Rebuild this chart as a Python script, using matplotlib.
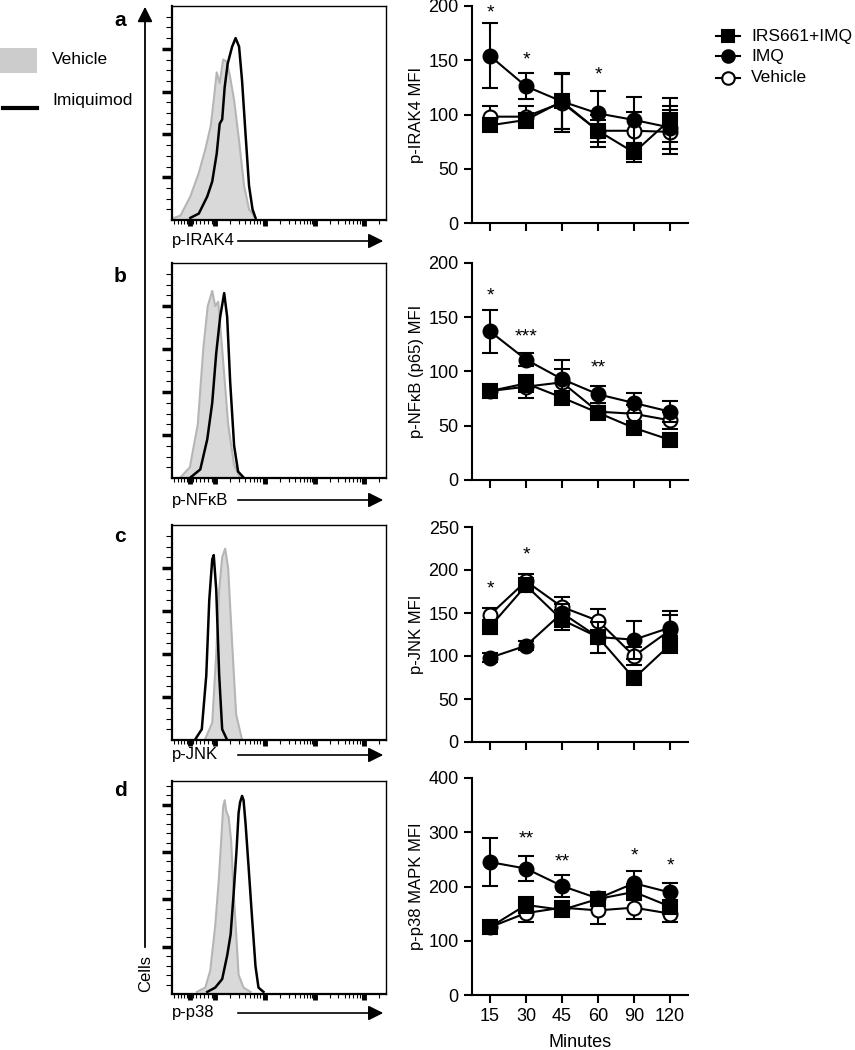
import matplotlib
matplotlib.use("Agg")
import matplotlib.pyplot as plt
from matplotlib.lines import Line2D
from matplotlib.patches import Rectangle, FancyArrowPatch
import numpy as np

plt.rcParams['font.family'] = ['Liberation Sans', 'DejaVu Sans']

W, H = 855, 1050

# ---------------- line-chart data ----------------
minutes = ["15", "30", "45", "60", "90", "120"]

irak4_irs = [90, 95, 112, 85, 65, 95]
irak4_irs_err = [5, 5, 25, 15, 9, 20]
irak4_imq = [154, 126, 112, 101, 95, 88]
irak4_imq_err = [30, 12, 25, 21, 21, 20]
irak4_veh = [98, 98, 111, 85, 85, 84]
irak4_veh_err = [10, 10, 27, 10, 17, 20]
irak4_stars = ["*", "*", "", "*", "", ""]
irak4_star_y = [194, 150, 0, 136, 0, 0]

nfkb_irs = [82, 89, 76, 62, 48, 37]
nfkb_irs_err = [4, 8, 5, 5, 4, 4]
nfkb_imq = [137, 111, 93, 79, 71, 63]
nfkb_imq_err = [20, 6, 18, 8, 9, 10]
nfkb_veh = [82, 86, 90, 63, 61, 55]
nfkb_veh_err = [3, 10, 12, 5, 8, 8]
nfkb_stars = ["*", "***", "", "**", "", ""]
nfkb_star_y = [170, 132, 0, 103, 0, 0]

jnk_irs = [134, 182, 142, 122, 74, 113]
jnk_irs_err = [8, 8, 12, 5, 5, 10]
jnk_imq = [98, 112, 150, 122, 119, 133]
jnk_imq_err = [5, 5, 10, 18, 22, 15]
jnk_veh = [148, 187, 157, 141, 100, 130]
jnk_veh_err = [8, 8, 12, 14, 10, 22]
jnk_stars = ["*", "*", "", "", "", ""]
jnk_star_y = [178, 217, 0, 0, 0, 0]

p38_irs = [125, 166, 157, 177, 190, 163]
p38_irs_err = [8, 15, 12, 10, 15, 10]
p38_imq = [245, 233, 201, 178, 206, 189]
p38_imq_err = [44, 23, 21, 10, 22, 18]
p38_veh = [125, 151, 161, 156, 161, 150]
p38_veh_err = [5, 17, 12, 25, 20, 15]
p38_stars = ["", "**", "**", "", "*", "*"]
p38_star_y = [0, 288, 245, 0, 256, 237]

# ---------------- histogram data (x: log10 fluorescence, y: % of max scale) ----------------
h_irak4_veh_x = [1.17, 1.30, 1.50, 1.67, 1.80, 1.91, 1.97, 2.03, 2.09, 2.16, 2.23, 2.29, 2.38, 2.48, 2.58, 2.68, 2.81]
h_irak4_veh_y = [1, 2, 11, 22, 33, 44, 56, 69, 64, 75, 74, 68, 56, 37, 16, 5, 1]
h_irak4_imq_x = [1.50, 1.67, 1.84, 1.94, 2.03, 2.09, 2.14, 2.19, 2.25, 2.34, 2.41, 2.48, 2.54, 2.61, 2.68, 2.75, 2.81]
h_irak4_imq_y = [1, 3, 11, 18, 31, 45, 47, 62, 73, 81, 85, 81, 65, 40, 16, 5, 1]

h_nfkb_veh_x = [1.29, 1.49, 1.65, 1.76, 1.85, 1.94, 2.00, 2.06, 2.14, 2.26, 2.38, 2.50]
h_nfkb_veh_y = [0, 5, 25, 60, 80, 87, 80, 82, 60, 25, 6, 0]
h_nfkb_imq_x = [1.49, 1.70, 1.84, 1.94, 2.02, 2.10, 2.18, 2.24, 2.30, 2.38, 2.46, 2.58]
h_nfkb_imq_y = [0, 4, 18, 35, 58, 75, 86, 75, 45, 15, 3, 0]

h_jnk_veh_x = [1.79, 1.94, 2.02, 2.08, 2.14, 2.20, 2.26, 2.34, 2.42, 2.54]
h_jnk_veh_y = [0, 8, 40, 70, 85, 89, 80, 45, 12, 0]
h_jnk_imq_x = [1.59, 1.73, 1.82, 1.88, 1.94, 1.97, 2.02, 2.08, 2.14, 2.24]
h_jnk_imq_y = [0, 5, 30, 65, 84, 86, 70, 30, 5, 0]

h_p38_veh_x = [1.63, 1.80, 1.90, 2.00, 2.07, 2.12, 2.16, 2.19, 2.22, 2.27, 2.32, 2.37, 2.43, 2.47, 2.57, 2.71]
h_p38_veh_y = [1, 3, 11, 32, 53, 72, 88, 91, 86, 83, 72, 48, 25, 9, 3, 1]
h_p38_imq_x = [1.84, 2.00, 2.14, 2.24, 2.31, 2.37, 2.43, 2.47, 2.50, 2.54, 2.57, 2.61, 2.67, 2.74, 2.81, 2.87, 2.97]
h_p38_imq_y = [1, 3, 7, 18, 28, 47, 68, 85, 90, 93, 91, 80, 60, 36, 13, 3, 1]

hist_labels = ["p-IRAK4", "p-NF\u03baB", "p-JNK", "p-p38"]
line_ylabels = ["p-IRAK4 MFI", "p-NF\u03baB (p65) MFI", "p-JNK MFI", "p-p38 MAPK MFI"]
line_ymax = [200, 200, 250, 400]
line_ystep = [50, 50, 50, 100]
panel_letters = ["a", "b", "c", "d"]

# ---------------- layout ----------------
def rect(x0, y0, x1, y1):
    return [x0 / W, 1 - y1 / H, (x1 - x0) / W, (y1 - y0) / H]

def fx(x):
    return x / W

def fy(y):
    return 1 - y / H

line_boxes = [(472, 6, 688, 223), (472, 263, 688, 480), (472, 527, 688, 742), (472, 778, 688, 995)]
hist_boxes = [(172, 6, 386, 220), (172, 263, 386, 478), (172, 525, 386, 740), (172, 781, 386, 994)]
hist_ymajor = [20, 20, 20, 22.22]
hist_yminor = [5, 5, 5, 4.444]
letter_y = [20, 276, 537, 790]
hist_label_y = [241, 500, 755, 1013]

fig = plt.figure(figsize=(W / 100, H / 100), dpi=100)

line_data = [
    (irak4_irs, irak4_irs_err, irak4_imq, irak4_imq_err, irak4_veh, irak4_veh_err, irak4_stars, irak4_star_y),
    (nfkb_irs, nfkb_irs_err, nfkb_imq, nfkb_imq_err, nfkb_veh, nfkb_veh_err, nfkb_stars, nfkb_star_y),
    (jnk_irs, jnk_irs_err, jnk_imq, jnk_imq_err, jnk_veh, jnk_veh_err, jnk_stars, jnk_star_y),
    (p38_irs, p38_irs_err, p38_imq, p38_imq_err, p38_veh, p38_veh_err, p38_stars, p38_star_y),
]
hist_data = [
    (h_irak4_veh_x, h_irak4_veh_y, h_irak4_imq_x, h_irak4_imq_y),
    (h_nfkb_veh_x, h_nfkb_veh_y, h_nfkb_imq_x, h_nfkb_imq_y),
    (h_jnk_veh_x, h_jnk_veh_y, h_jnk_imq_x, h_jnk_imq_y),
    (h_p38_veh_x, h_p38_veh_y, h_p38_imq_x, h_p38_imq_y),
]

xpos = np.arange(len(minutes))
tick_fs = 13

for i in range(4):
    irs, irs_e, imq, imq_e, veh, veh_e, stars, star_y = line_data[i]
    ax = fig.add_axes(rect(*line_boxes[i]))
    common = dict(color='k', lw=1.5, capsize=5.5, capthick=1.5, elinewidth=1.5, mec='k', ms=10, mew=1.5)
    ax.errorbar(xpos, veh, yerr=veh_e, marker='o', mfc='white', zorder=3, **common)
    ax.errorbar(xpos, irs, yerr=irs_e, marker='s', mfc='k', zorder=4, **common)
    ax.errorbar(xpos, imq, yerr=imq_e, marker='o', mfc='k', zorder=5, **common)
    for j, (s, sy) in enumerate(zip(stars, star_y)):
        if s:
            ax.text(xpos[j], sy, s, ha='center', va='center', fontsize=14)
    ax.set_xlim(-0.5, 5.5)
    ax.set_ylim(0, line_ymax[i])
    ax.set_yticks(np.arange(0, line_ymax[i] + 1, line_ystep[i]))
    ax.set_xticks(xpos)
    for s in ['top', 'right']:
        ax.spines[s].set_visible(False)
    for s in ['left', 'bottom']:
        ax.spines[s].set_linewidth(1.5)
    ax.tick_params(direction='out', length=6, width=1.5, labelsize=tick_fs)
    ax.set_ylabel(line_ylabels[i], fontsize=12, labelpad=3)
    if i == 3:
        ax.set_xticklabels(minutes)
        ax.set_xlabel("Minutes", fontsize=13, labelpad=6)
    else:
        ax.set_xticklabels([])

    # histogram
    vx, vy, mx, my = hist_data[i]
    hx = fig.add_axes(rect(*hist_boxes[i]))
    hx.fill_between(vx, vy, 0, color='#d9d9d9', lw=0, zorder=1)
    hx.plot(vx, vy, color='#b5b5b5', lw=1.5, zorder=2)
    hx.plot(mx, my, color='k', lw=1.8, zorder=3)
    hx.set_xlim(1.131, 5.434)
    hx.set_ylim(0, 100)
    xmaj = [1.5, 2, 3, 4, 5]
    xmin = [1.18, 1.25, 1.32, 1.38, 1.44, 1.56, 1.62, 1.7, 1.78, 1.86, 1.93]
    for d in [2, 3, 4, 5]:
        for k in range(2, 10):
            v = d + np.log10(k)
            if v < 5.43:
                xmin.append(v)
    hx.set_xticks(xmaj)
    hx.set_xticks(xmin, minor=True)
    ymaj = np.arange(hist_ymajor[i], 99, hist_ymajor[i])
    ymin = np.arange(hist_yminor[i], 100, hist_yminor[i])
    hx.set_yticks(ymaj)
    hx.set_yticks(ymin, minor=True)
    hx.tick_params(axis='x', which='major', direction='out', length=4, width=3.5)
    hx.tick_params(axis='x', which='minor', direction='out', length=3, width=0.8)
    hx.tick_params(axis='y', which='major', direction='out', length=7, width=2.5)
    hx.tick_params(axis='y', which='minor', direction='out', length=4, width=0.8)
    hx.set_xticklabels([])
    hx.set_yticklabels([])
    for s in ['top', 'right']:
        hx.spines[s].set_linewidth(1.0)
    for s in ['left', 'bottom']:
        hx.spines[s].set_linewidth(1.6)

    # x label with arrow under histogram
    fig.text(fx(172), fy(hist_label_y[i]), hist_labels[i], fontsize=12, ha='left', va='center')
    fig.add_artist(FancyArrowPatch((fx(235), fy(hist_label_y[i])), (fx(386), fy(hist_label_y[i])),
                                   transform=fig.transFigure, arrowstyle='-|>,head_length=0.5,head_width=0.25',
                                   mutation_scale=18, lw=1.2, color='k'))
    # panel letter
    fig.text(fx(120), fy(letter_y[i]), panel_letters[i], fontsize=15, fontweight='bold', ha='center', va='center')

# big "Cells" axis arrow
fig.add_artist(FancyArrowPatch((fx(145), fy(950)), (fx(145), fy(4)),
                               transform=fig.transFigure, arrowstyle='-|>,head_length=0.5,head_width=0.25',
                               mutation_scale=18, lw=1.3, color='k'))
fig.text(fx(146), fy(973), "Cells", rotation=90, fontsize=12, ha='center', va='center')

# left legend (histograms)
fig.add_artist(Rectangle((fx(0), fy(73)), (37) / W, 25 / H, transform=fig.transFigure,
                         facecolor='#cccccc', edgecolor='none'))
fig.text(fx(52), fy(60), "Vehicle", fontsize=12.5, ha='left', va='center')
fig.add_artist(Line2D([fx(3), fx(37)], [fy(108), fy(108)], transform=fig.transFigure, color='k', lw=3))
fig.text(fx(52), fy(101), "Imiquimod", fontsize=12.5, ha='left', va='center')

# right legend (line charts)
leg_names = ["IRS661+IMQ", "IMQ", "Vehicle"]
leg_markers = ['s', 'o', 'o']
leg_faces = ['k', 'k', 'white']
leg_y = [36, 56, 78]
for name, mk, fc, yy in zip(leg_names, leg_markers, leg_faces, leg_y):
    fig.add_artist(Line2D([fx(716), fx(740)], [fy(yy), fy(yy)], transform=fig.transFigure, color='k', lw=1.5))
    fig.add_artist(Line2D([fx(728)], [fy(yy)], transform=fig.transFigure, marker=mk, ms=9,
                          mfc=fc, mec='k', mew=1.5, color='k', lw=0))
    fig.text(fx(751), fy(yy), name, fontsize=12.5, ha='left', va='center')

fig.savefig("out.png", dpi=100)
